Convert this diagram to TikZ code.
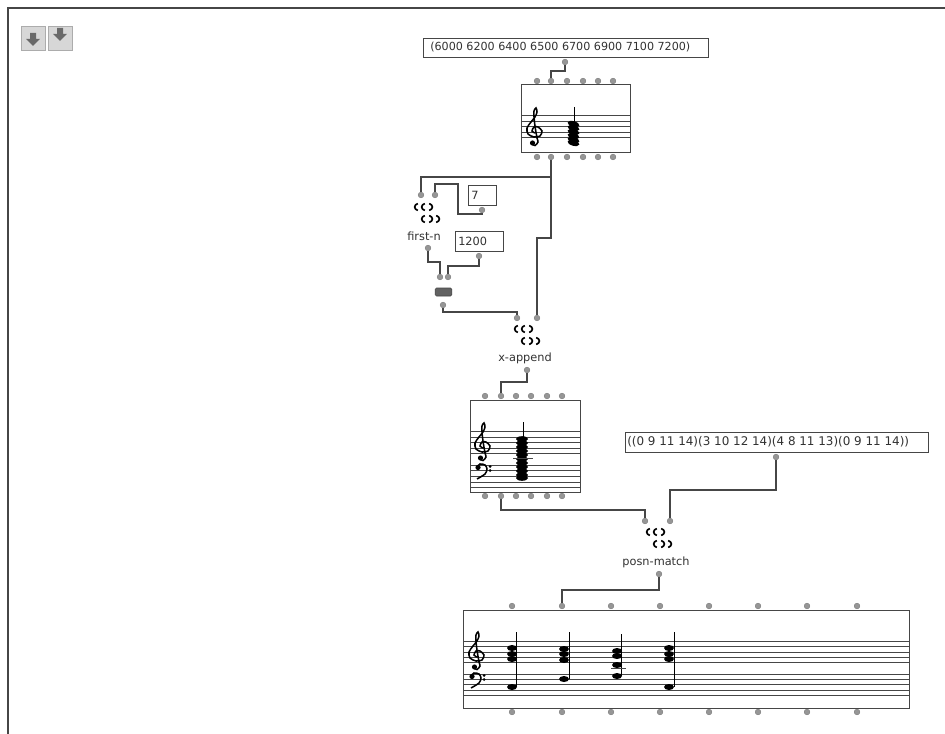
\documentclass[tikz,border=0pt]{standalone}
\usepackage{fontspec}
\setmainfont{DejaVu Sans}
\usetikzlibrary{calc}
\definecolor{wiregray}{RGB}{70, 70, 70}
\definecolor{portgray}{RGB}{150, 150, 150}
\definecolor{textgray}{RGB}{50, 50, 50}
\definecolor{btngray}{RGB}{215, 215, 215}
\definecolor{arrowgray}{RGB}{105, 105, 105}
\newcommand{\lispicon}[2]{%
  % two rows of paren marks round a box centre
  \foreach \ox/\oy/\bend in {-11/-6/1,-4/-6/1,4/-6/-1,-4/6/1,4/6/-1,11/6/-1} {
    \draw[parenmark] (#1+\ox+\bend*1.8,#2+\oy-3.5) .. controls (#1+\ox-\bend*2.4,#2+\oy-2) and (#1+\ox-\bend*2.4,#2+\oy+2) .. (#1+\ox+\bend*1.8,#2+\oy+3.5);
  }
}
\newcommand{\trebleclef}[2]{%
  \begin{scope}[shift={(#1,#2)}]
    \draw[clefline] plot[smooth] coordinates {(0,7) (-3,5) (-1,1) (3,1) (7,5) (5,10) (-1,11) (-7,8) (-8,2) (-4,-4) (0,-9) (2,-14) (1,-18) (-1,-15) (-1,-9) (0,0) (2,12) (3,16) (0,19.5) (-3,18)};
    \fill[black] (-2.5,17) circle (2.6);
  \end{scope}
}
\newcommand{\bassclef}[2]{%
  \begin{scope}[shift={(#1,#2)}]
    \draw[clefline] plot[smooth] coordinates {(-6,-3) (-3,-6) (2,-5) (4,-1) (2,4) (-6,9)};
    \fill[black] (-5,-2.5) circle (2.6);
    \fill[black] (7,-3.5) circle (1.5);
    \fill[black] (7,0.5) circle (1.5);
  \end{scope}
}
\begin{document}
\begin{tikzpicture}[
    x=0.75pt, y=-0.75pt,
    port/.style={circle, fill=portgray, draw=portgray!70!black, line width=0.2pt, minimum size=4.3pt, inner sep=0pt},
    wire/.style={draw=wiregray, line width=0.9pt},
    boxline/.style={draw=wiregray, line width=0.9pt},
    staffline/.style={draw=wiregray, line width=0.6pt},
    txtbox/.style={draw=wiregray, line width=0.9pt, anchor=north west, inner sep=0pt, fill=white},
    lbl/.style={font=\fontsize{8.5}{10}\selectfont, text=textgray, inner sep=0pt},
    parenmark/.style={draw=black, line width=1.25pt},
    clefline/.style={draw=black, line width=1.15pt},
    stem/.style={draw=black, line width=0.6pt},
    button/.style={draw=btngray!80!black, fill=btngray, line width=0.3pt, minimum size=18pt, inner sep=0pt},
  ]
    \useasboundingbox (0,0) rectangle (945,734);
    \fill[white] (0,0) rectangle (945,734);

    % === window edge and the two arrow buttons ===
    \draw[draw=wiregray, line width=0.9pt] (945,8) -- (8,8) -- (8,734);
    \node[button] (btnA) at (33,38) {};
    \node[button] (btnB) at (60,38) {};
    \fill[arrowgray] (30,33) -- (36,33) -- (36,39) -- (40,39) -- (33,46) -- (26,39) -- (30,39) -- cycle;
    \fill[arrowgray] (57,28) -- (63,28) -- (63,34) -- (67,34) -- (60,41) -- (53,34) -- (57,34) -- cycle;

    % === pitch list and first chord ===
    \node[txtbox, minimum width=213.75pt, minimum height=14.25pt] (pitchlist) at (423,38) {};
    \node[lbl, anchor=west, font=\fontsize{8.35}{10}\selectfont] (pitchtext) at (430,47.5) {(6000 6200 6400 6500 6700 6900 7100 7200)};
    \node[port] (pitchout) at (565,62) {};

    \node[boxline, draw, anchor=north west, minimum width=81.75pt, minimum height=51pt, inner sep=0pt] (chordA) at (521,84) {};
    \foreach \y in {115,121,126,132,137} {
      \draw[staffline] (521,\y) -- (630,\y);
    }
    \trebleclef{535}{126}
    \foreach \ny in {124,128,132,136,140,143} {
      \fill[black, rotate around={-15:(573.5,\ny)}] (573.5,\ny) ellipse (6 and 2.8);
    }
    \draw[stem] (574,107) -- (574,124);
    \foreach \i/\x in {1/537,2/551,3/567,4/583,5/598,6/613} {
      \node[port] (chordAin\i) at (\x,81) {};
      \node[port] (chordAout\i) at (\x,157) {};
    }

    % === first-n with its two inputs ===
    \node[port] (firstin1) at (421,195) {};
    \node[port] (firstin2) at (435,195) {};
    \lispicon{427}{213}
    \node[lbl] (firstlbl) at (424,236) {first-n};
    \node[port] (firstout) at (428,248) {};
    \node[txtbox, minimum width=21pt, minimum height=15pt] (numbox) at (468,185) {};
    \node[lbl, anchor=west] (numtext) at (471,195) {7};
    \node[port] (numout) at (482,210) {};

    % === transposition box and small operator ===
    \node[txtbox, minimum width=36pt, minimum height=15pt] (transbox) at (455,231) {};
    \node[lbl, anchor=west] (transtext) at (458,241) {1200};
    \node[port] (transout) at (479,256) {};
    \node[port] (opin1) at (440,277) {};
    \node[port] (opin2) at (448,277) {};
    \node[draw=wiregray, fill=wiregray!85, rounded corners=1pt, minimum width=12.5pt, minimum height=6pt, inner sep=0pt] (opbox) at (443.5,292) {};
    \node[port] (opout) at (443,305) {};

    % === x-append ===
    \node[port] (appendin1) at (517,318) {};
    \node[port] (appendin2) at (537,318) {};
    \lispicon{527}{335}
    \node[lbl] (appendlbl) at (525,358) {x-append};
    \node[port] (appendout) at (527,370) {};

    % === second chord, two staves ===
    \node[boxline, draw, anchor=north west, minimum width=82.5pt, minimum height=69pt, inner sep=0pt] (chordB) at (470,400) {};
    \foreach \y in {431,437,442,448,453,465,470,476,482,487} {
      \draw[staffline] (470,\y) -- (580,\y);
    }
    \trebleclef{483}{441}
    \bassclef{483}{470}
    \foreach \ny in {439,443,447,451,455,459,463,467,471,475,478} {
      \fill[black] (522,\ny) ellipse (6 and 2.8);
    }
    \draw[stem] (523,422) -- (523,440);
    \draw[staffline] (513,458) -- (533,458);
    \foreach \i/\x in {1/485,2/501,3/516,4/531,5/547,6/562} {
      \node[port] (chordBin\i) at (\x,396) {};
      \node[port] (chordBout\i) at (\x,496) {};
    }

    % === interval list and posn-match ===
    \node[txtbox, minimum width=227.25pt, minimum height=15pt] (posnlist) at (625,432) {};
    \node[lbl, anchor=west, font=\fontsize{8.95}{10}\selectfont] (posntext) at (627,442) {((0 9 11 14)(3 10 12 14)(4 8 11 13)(0 9 11 14))};
    \node[port] (posnlistout) at (776,457) {};
    \node[port] (matchin1) at (645,521) {};
    \node[port] (matchin2) at (670,521) {};
    \lispicon{659}{538}
    \node[lbl] (matchlbl) at (656,562) {posn-match};
    \node[port] (matchout) at (659,574) {};

    % === result sequence ===
    \node[boxline, draw, anchor=north west, minimum width=334.5pt, minimum height=73.5pt, inner sep=0pt] (seq) at (463,610) {};
    \foreach \y in {641,646,652,657,662,674,679,684,690,695} {
      \draw[staffline] (463,\y) -- (909,\y);
    }
    \trebleclef{477}{650}
    \bassclef{477}{679}
    \foreach \nx/\ny in {512/648,512/654,512/659,512/687,
                         564/649,564/654,564/660,564/679,
                         617/651,617/656,617/665,617/676,
                         669/648,669/654,669/659,669/687} {
      \fill[black] (\nx,\ny) ellipse (5 and 3);
    }
    \draw[stem] (516.5,632) -- (516.5,687);
    \draw[stem] (569,632) -- (569,679);
    \draw[stem] (621.5,634) -- (621.5,676);
    \draw[stem] (674,632) -- (674,687);
    \draw[staffline] (611,668) -- (626,668);
    \foreach \i/\x in {1/512,2/562,3/611,4/660,5/709,6/758,7/807,8/857} {
      \node[port] (seqin\i) at (\x,606) {};
      \node[port] (seqout\i) at (\x,712) {};
    }

    % --- connectors ---
    \coordinate (split) at (551,177);
    \draw[wire] (pitchout.south) -- ++(0,6) -| (chordAin2.north);
    \draw[wire] (chordAout2.south) -- (split);
    \draw[wire] (split) -| (firstin1.north);
    \draw[wire] (split) -- ++(0,61) -| (appendin2.north);
    \draw[wire] (firstin2.north) |- ++(23,-8) |- ($(numout.south)+(0,1)$) -- (numout.south);
    \draw[wire] (firstout.south) -- ++(0,11) -| (opin1.north);
    \draw[wire] (transout.south) -- ++(0,7) -| (opin2.north);
    \draw[wire] (opout.south) -- ++(0,4) -| (appendin1.north);
    \draw[wire] (appendout.south) -- ++(0,9) -| (chordBin2.north);
    \draw[wire] (chordBout2.south) -- ++(0,11) -| (matchin1.north);
    \draw[wire] (posnlistout.south) -- ++(0,30) -| (matchin2.north);
    \draw[wire] (matchout.south) -- ++(0,13) -| (seqin2.north);
\end{tikzpicture}
\end{document}
